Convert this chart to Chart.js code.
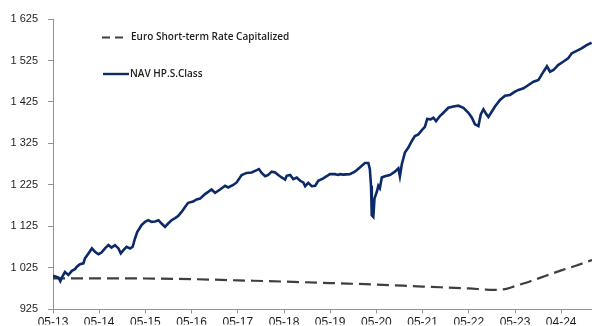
<!DOCTYPE html>
<html>
<head>
<meta charset="utf-8">
<script src="https://cdn.jsdelivr.net/npm/chart.js@4/dist/chart.umd.min.js"></script>
<style>
  html, body { margin: 0; padding: 0; background: #fff; }
  #chart { display: block; }
</style>
</head>
<body>
<canvas id="chart" width="592" height="326"></canvas>
<script>
// x positions are months counted from May 2013
const xTickLabels = ['05-13', '05-14', '05-15', '05-16', '05-17', '05-18', '05-19', '05-20', '05-21', '05-22', '05-23', '04-24']

const navMonths = [
  0, 0.8, 1.4, 1.9, 2.3, 3.1, 4.0, 4.9, 5.7, 6.2, 7.0, 7.9, 8.3, 8.75, 9.2, 10.1, 10.9, 11.8,
  12.6, 13.5, 14.4, 15.2, 16.1, 17.0, 17.6, 18.3, 19.1, 20.0, 20.7, 21.3, 21.9, 23.0, 23.9,
  24.75, 25.6, 26.5, 27.4, 28.2, 29.1, 29.9, 30.8, 31.7, 32.5, 33.4, 34.3, 35.1,
  36.4, 37.3, 38.2, 39.5, 41.2, 42.1, 43.4, 44.7, 45.5, 46.8, 47.7,
  49.0, 50.3, 51.6, 52.5, 53.5, 54.2, 55.1, 55.9, 56.8, 57.7, 58.5, 59.4,
  60.3, 60.7, 61.6, 62.4, 63.3, 64.2, 65.0, 65.5, 66.3, 67.2, 68.1, 68.9, 70.2, 71.1,
  71.9, 73.2, 74.1, 74.5, 75.4, 77.1, 78.4, 79.7, 81.0, 81.9, 82.3, 82.6, 82.8, 83.2,
  83.5, 84.1, 84.5, 84.9, 85.4, 86.2, 87.5, 88.8, 89.7, 90.1, 90.6, 91.4, 92.3, 93.2,
  94.0, 94.9, 95.8, 96.6, 97.2, 98.1, 98.8, 99.5, 100.5, 101.4, 102.7, 104.0, 105.3,
  106.6, 107.9, 108.8, 109.6, 110.5, 111.1, 111.8, 112.6, 113.1, 114.8, 116.1, 117.4,
  118.7, 120.0, 120.9, 122.2, 123.5, 124.8, 126.1, 127.4, 128.3, 129.1, 130.0, 131.2,
  132.5, 133.8, 134.7, 136.0, 137.3, 138.6, 139.9
]
const navValues = [
  1006, 1004, 1002, 993, 1002, 1015, 1008, 1018, 1022, 1028, 1034, 1036, 1048, 1054, 1060, 1072, 1064, 1058,
  1062, 1072, 1080, 1074, 1080, 1072, 1060, 1068, 1076, 1072, 1076, 1096, 1112, 1128, 1136,
  1140, 1136, 1137, 1140, 1132, 1124, 1132, 1140, 1145, 1150, 1160, 1172, 1182,
  1185, 1190, 1192, 1203, 1214, 1206, 1214, 1223, 1219, 1225, 1231,
  1249, 1254, 1255, 1259, 1263, 1254, 1246, 1249, 1257, 1255, 1249, 1243,
  1238, 1247, 1249, 1239, 1243, 1235, 1231, 1222, 1230, 1222, 1223, 1235, 1241, 1246,
  1251, 1251, 1249, 1251, 1250, 1251, 1257, 1267, 1278, 1278, 1263, 1223, 1152, 1148,
  1192, 1208, 1223, 1217, 1243, 1246, 1249, 1257, 1265, 1246, 1275, 1303, 1315, 1331,
  1343, 1347, 1357, 1365, 1384, 1383, 1387, 1379, 1391, 1399, 1411, 1414, 1416,
  1411, 1399, 1387, 1371, 1367, 1395, 1407, 1395, 1389, 1414, 1430, 1440,
  1442, 1450, 1454, 1458, 1466, 1474, 1478, 1498, 1511, 1498, 1502, 1514,
  1522, 1530, 1542, 1548, 1554, 1562, 1568
]

const estrMonths = [0, 12, 24, 36, 48, 60, 72, 84, 96, 108, 112, 114, 116, 118, 120, 124, 128, 132, 136, 140]
const estrValues = [1000, 1000, 999.5, 998, 995, 992, 988.5, 985, 980, 975.5, 973, 972, 972.5, 975, 981, 993, 1006, 1019, 1031, 1044]

const yMin = 925
const yMax = 1625
const yStep = 100
const xMax = 140

const AXIS = '#8796a5'
const TEXT = '#1e1e1e'

function toPoints(xs, ys) {
  return xs.map((x, i) => ({ x: x, y: ys[i] }))
}

function fmtThousands(v) {
  if (v < 1000) return String(v)
  return Math.floor(v / 1000) + ' ' + String(v % 1000).padStart(3, '0')
}

// legend sits inside the plot, top-left
const innerLegend = {
  id: 'innerLegend',
  afterDraw(chart) {
    const ctx = chart.ctx
    const rows = [
      { ds: chart.data.datasets[1], x0: 102, x1: 125, y: 37.5, tx: 131 },
      { ds: chart.data.datasets[0], x0: 103, x1: 129, y: 74, tx: 130 }
    ]
    ctx.save()
    rows.forEach(r => {
      ctx.beginPath()
      ctx.setLineDash(r.ds.borderDash ? [8, 5] : [])
      ctx.strokeStyle = r.ds.borderColor
      ctx.lineWidth = r.ds.legendWidth
      ctx.moveTo(r.x0, r.y)
      ctx.lineTo(r.x1, r.y)
      ctx.stroke()
      ctx.setLineDash([])
      ctx.fillStyle = TEXT
      ctx.font = '600 10px "Open Sans"'
      ctx.textBaseline = 'middle'
      ctx.textAlign = 'left'
      ctx.fillText(r.ds.label, r.tx, r.y)
    })
    ctx.restore()
  }
}

new Chart(document.getElementById('chart'), {
  type: 'line',
  data: {
    datasets: [
      {
        label: 'NAV HP.S.Class',
        data: toPoints(navMonths, navValues),
        borderColor: '#0c2a68',
        borderWidth: 2.6,
        legendWidth: 2.4,
        pointRadius: 0,
        tension: 0,
        order: 1
      },
      {
        label: 'Euro Short-term Rate Capitalized',
        data: toPoints(estrMonths, estrValues),
        borderColor: '#3f3f3f',
        borderWidth: 2.2,
        legendWidth: 2.2,
        borderDash: [12, 6],
        pointRadius: 0,
        cubicInterpolationMode: 'monotone',
        order: 2
      }
    ]
  },
  options: {
    responsive: false,
    animation: false,
    devicePixelRatio: 1,
    layout: { padding: { top: 19, right: 0, left: 0, bottom: 0 } },
    plugins: {
      legend: { display: false },
      tooltip: { enabled: false }
    },
    scales: {
      x: {
        type: 'linear',
        min: 0,
        max: xMax,
        afterBuildTicks(scale) {
          scale.ticks = xTickLabels.map((_, i) => ({ value: i * 12 }))
        },
        afterFit(scale) { scale.height = 15 },
        border: { display: true, color: AXIS, width: 1 },
        grid: { drawOnChartArea: false, drawTicks: true, tickLength: 4, color: AXIS },
        ticks: {
          autoSkip: false,
          maxRotation: 0,
          padding: 2,
          color: TEXT,
          font: { family: 'Liberation Sans', size: 12 },
          callback: v => xTickLabels[Math.round(v / 12)]
        }
      },
      y: {
        min: yMin,
        max: yMax,
        afterFit(scale) { scale.width = 53 },
        border: { display: true, color: AXIS, width: 1 },
        grid: { drawOnChartArea: false, drawTicks: true, tickLength: 5, color: AXIS },
        ticks: {
          stepSize: yStep,
          padding: 10,
          color: TEXT,
          font: { family: 'Liberation Sans', size: 11 },
          callback: v => fmtThousands(v)
        }
      }
    }
  },
  plugins: [innerLegend]
})
</script>
</body>
</html>
